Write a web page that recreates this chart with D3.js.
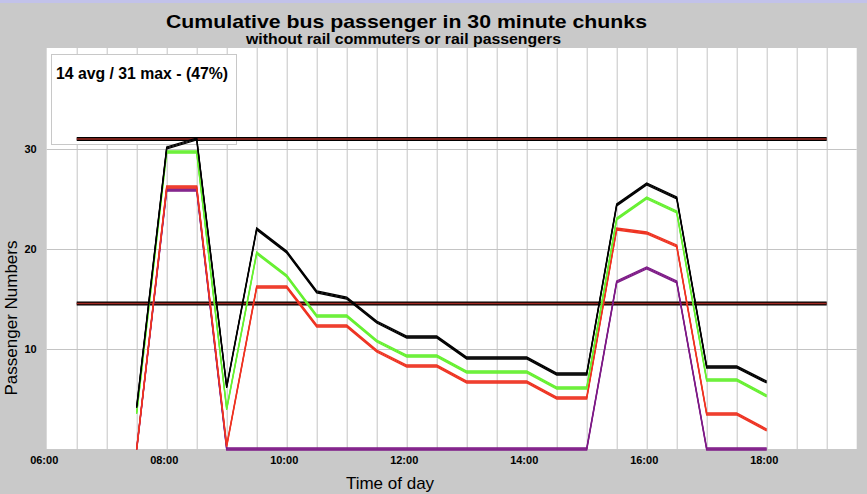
<!DOCTYPE html>
<html>
<head>
<meta charset="utf-8">
<script src="https://cdn.jsdelivr.net/npm/d3@7"></script>
<style>
  html, body { margin: 0; padding: 0; background: #c9c9c9; }
  svg { display: block; font-family: "Liberation Sans", Arial, sans-serif; }
</style>
</head>
<body>
<svg id="chart" width="867" height="494"></svg>
<script>
"use strict";

// half-hour slots
const times = ["07:30","08:00","08:30","09:00","09:30","10:00","10:30","11:00","11:30","12:00","12:30",
               "13:00","13:30","14:00","14:30","15:00","15:30","16:00","16:30","17:00","17:30","18:00"];

const totalSeries  = [4.2, 30.1, 31.0, 6.2, 22.0, 19.7, 15.7, 15.1, 12.7, 11.2, 11.2, 9.1, 9.1, 9.1, 7.5, 7.5, 24.4, 26.5, 25.1, 8.2, 8.2, 6.7];
const greenSeries  = [3.6, 29.7, 29.7, 4.0, 19.6, 17.3, 13.3, 13.3, 10.8, 9.3, 9.3, 7.7, 7.7, 7.7, 6.1, 6.1, 23.0, 25.1, 23.7, 6.9, 6.9, 5.3];
const redSeries    = [0, 26.2, 26.2, 0.3, 16.2, 16.2, 12.3, 12.3, 9.8, 8.3, 8.3, 6.7, 6.7, 6.7, 5.1, 5.1, 22.0, 21.6, 20.3, 3.5, 3.5, 1.9];
const purpleSeries = [0, 25.9, 25.9, 0, 0, 0, 0, 0, 0, 0, 0, 0, 0, 0, 0, 0, 16.7, 18.1, 16.7, 0, 0, 0];

const avgValue = 14.55;
const maxValue = 31;
const refStart = "06:30";
const refEnd = "19:00";

const xTicks = ["06:00","08:00","10:00","12:00","14:00","16:00","18:00"];
const yTicks = [10, 20, 30];

const titleText = "Cumulative bus passenger in 30 minute chunks";
const subtitleText = "without rail commuters or rail passengers";
const legendText = "14 avg / 31 max - (47%)";

function hours(t) {
    const p = t.split(":");
    return +p[0] + (+p[1]) / 60;
}

const svg = d3.select("#chart");

const x = d3.scaleLinear().domain([6, 19.5]).range([46.7, 856.7]);
const y = d3.scaleLinear().domain([0, 40]).range([449, 49]);

// thin strip at very top
svg.append("rect").attr("x", 0).attr("y", 0).attr("width", 867).attr("height", 3).attr("fill", "#c2c2ea");

// plot background
svg.append("rect")
    .attr("x", x(6)).attr("y", 48)
    .attr("width", x(19.5) - x(6)).attr("height", y(0) - 48)
    .attr("fill", "#ffffff");

// grid
const halfHours = d3.range(6.5, 19.5, 0.5);
svg.append("g")
    .selectAll("line").data(halfHours).enter().append("line")
    .attr("x1", d => x(d) + 0.5).attr("x2", d => x(d) + 0.5)
    .attr("y1", 48).attr("y2", y(0))
    .attr("stroke", "#c4c4c4").attr("stroke-width", 1);
svg.append("g")
    .selectAll("line").data(yTicks).enter().append("line")
    .attr("x1", x(6)).attr("x2", x(19.5))
    .attr("y1", d => y(d) + 0.5).attr("y2", d => y(d) + 0.5)
    .attr("stroke", "#c4c4c4").attr("stroke-width", 1);

// legend box
svg.append("rect")
    .attr("x", 51.5).attr("y", 54.5).attr("width", 185).attr("height", 90)
    .attr("fill", "#ffffff").attr("stroke", "#c8c8c8");
svg.append("text")
    .attr("x", 56).attr("y", 78.5)
    .attr("font-size", 16).attr("font-weight", "bold")
    .attr("textLength", 172).attr("lengthAdjust", "spacingAndGlyphs")
    .text(legendText);

// axes
const xAxis = d3.axisBottom(x)
    .tickValues(xTicks.map(hours))
    .tickSize(0).tickPadding(7)
    .tickFormat(d => xTicks[xTicks.map(hours).indexOf(d)]);
const gx = svg.append("g").attr("transform", `translate(0,${y(0)})`).call(xAxis);
gx.select(".domain").remove();
gx.selectAll("text").attr("dx", -3).attr("font-size", 11).attr("font-weight", "bold")
    .attr("font-family", "Liberation Sans, Arial, sans-serif").attr("fill", "#000");

const yAxis = d3.axisLeft(y).tickValues(yTicks).tickSize(0).tickPadding(10);
const gy = svg.append("g").attr("transform", `translate(${x(6)},0)`).call(yAxis);
gy.select(".domain").remove();
gy.selectAll("text").attr("font-size", 11).attr("font-weight", "bold")
    .attr("font-family", "Liberation Sans, Arial, sans-serif").attr("fill", "#000");

// avg / max reference lines
[maxValue, avgValue].forEach(v => {
    svg.append("line")
        .attr("x1", x(hours(refStart))).attr("x2", x(hours(refEnd)))
        .attr("y1", y(v)).attr("y2", y(v))
        .attr("stroke", "#000").attr("stroke-width", 4);
    svg.append("line")
        .attr("x1", x(hours(refStart))).attr("x2", x(hours(refEnd)))
        .attr("y1", y(v)).attr("y2", y(v))
        .attr("stroke", "#a02a22").attr("stroke-width", 1.4);
});

// series, drawn with a "tall pen": one path stacked at small vertical offsets
const line = d3.line()
    .x((d, i) => x(hours(times[i])))
    .y(d => y(d));

const series = [
    { values: purpleSeries, color: "#7d1a86" },
    { values: redSeries,    color: "#ee3322" },
    { values: greenSeries,  color: "#66f030" },
    { values: totalSeries,  color: "#000000" }
];

series.forEach(s => {
    const g = svg.append("g");
    [-1, 0, 1].forEach(off => {
        g.append("path")
            .datum(s.values)
            .attr("transform", `translate(0,${off})`)
            .attr("d", line)
            .attr("fill", "none")
            .attr("stroke", s.color)
            .attr("stroke-width", 1.3)
            .attr("stroke-linejoin", "miter");
    });
});

// titles
svg.append("text")
    .attr("x", 406.5).attr("y", 28)
    .attr("text-anchor", "middle")
    .attr("font-size", 19).attr("font-weight", "bold")
    .attr("textLength", 481).attr("lengthAdjust", "spacingAndGlyphs")
    .text(titleText);
svg.append("text")
    .attr("x", 403.5).attr("y", 43.5)
    .attr("text-anchor", "middle")
    .attr("font-size", 14.5).attr("font-weight", "bold")
    .attr("textLength", 315).attr("lengthAdjust", "spacingAndGlyphs")
    .text(subtitleText);

svg.append("text")
    .attr("x", 390).attr("y", 489)
    .attr("text-anchor", "middle")
    .attr("font-size", 17)
    .text("Time of day");

svg.append("text")
    .attr("transform", "translate(17,318) rotate(-90)")
    .attr("text-anchor", "middle")
    .attr("font-size", 17)
    .text("Passenger Numbers");
</script>
</body>
</html>
